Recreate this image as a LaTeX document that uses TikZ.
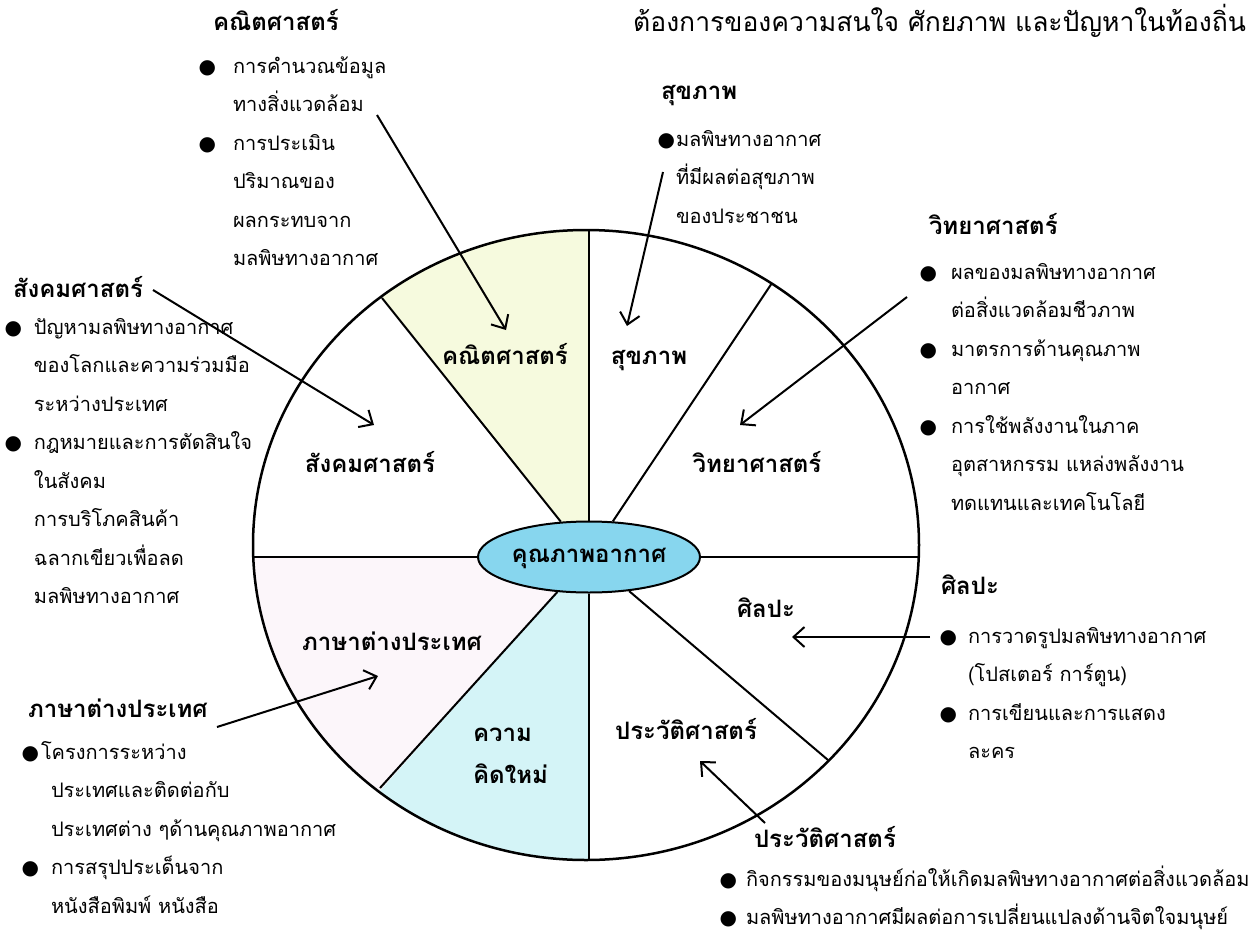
\documentclass[tikz,border=0pt]{standalone}
\usepackage{fontspec}
\newfontfamily\thaifont[Script=Thai]{Loma}
\newfontfamily\dotfont{DejaVu Sans}
\usetikzlibrary{shapes.geometric,arrows.meta}
\definecolor{mathfill}{RGB}{246,250,222}
\definecolor{ideafill}{RGB}{212,244,247}
\definecolor{langfill}{RGB}{252,246,250}
\definecolor{corefill}{RGB}{135,214,238}
\newcommand{\bul}[1][12pt]{\llap{{\dotfont ●}\hspace{#1}}}

\begin{document}
\begin{tikzpicture}[x=1pt, y=-1pt, line width=2pt,
	every node/.style={inner sep=0pt, font=\thaifont\fontsize{20}{38.5}\selectfont},
	head/.style={anchor=base west, font=\thaifont\bfseries\fontsize{24}{30}\selectfont},
	note/.style={anchor=north west, align=left},
	seg/.style={anchor=base, font=\thaifont\bfseries\fontsize{24}{42}\selectfont},
	arr/.style={-{Straight Barb[length=11pt, width=20pt]}}]
	\useasboundingbox (0,0) rectangle (1254,935);
	\begin{scope}
		\clip (586,545) ellipse [x radius=333, y radius=315];
		\fill[mathfill] (589,557) -- (176,39) -- (589,39) -- cycle;
		\fill[langfill] (589,557) -- (200,557) -- (176,1019) -- cycle;
		\fill[ideafill] (589,557) -- (176,1019) -- (589,1019) -- cycle;
	\end{scope}
	\draw[line width=2.5pt] (586,545) ellipse [x radius=333, y radius=315];
	\node[draw, ellipse, fill=corefill, minimum width=222pt, minimum height=71pt, text height=13pt, text depth=3pt, font=\thaifont\bfseries\fontsize{24}{30}\selectfont] (core) at (589,557) {คุณภาพอากาศ};
	\coordinate (rimN) at (589,230);
	\coordinate (rimS) at (589,860);
	\coordinate (rimW) at (253,557);
	\coordinate (rimE) at (918,557);
	\coordinate (rimNW) at (382,298);
	\coordinate (rimNE) at (772,283);
	\coordinate (rimSW) at (380,788);
	\coordinate (rimSE) at (828,760);
	\draw (core) -- (rimN);
	\draw (core) -- (rimS);
	\draw (core) -- (rimW);
	\draw (core) -- (rimE);
	\draw (core) -- (rimNW);
	\draw (core) -- (rimNE);
	\draw (core) -- (rimSW);
	\draw (core) -- (rimSE);
	\node[seg] (mathseg) at (505,364) {คณิตศาสตร์};
	\node[seg] (healthseg) at (649,364) {สุขภาพ};
	\node[seg] (socseg) at (370,472) {สังคมศาสตร์};
	\node[seg] (sciseg) at (757,472) {วิทยาศาสตร์};
	\node[seg] (artseg) at (766,617) {ศิลปะ};
	\node[seg] (langseg) at (392,650) {ภาษาต่างประเทศ};
	\node[seg, anchor=north west, align=left] (ideaseg) at (472,711) {\strut ความ\\คิดใหม่};
	\node[seg] (histseg) at (686,739) {ประวัติศาสตร์};
	\node[anchor=base east, font=\thaifont\fontsize{26.5}{30}\selectfont] (title) at (1247,31) {ต้องการของความสนใจ ศักยภาพ และปัญหาในท้องถิ่น};
	\node[head] (mathhead) at (212,30) {คณิตศาสตร์};
	\node[note] (mathnote) at (232,45.5) {\strut\bul[17pt]การคำนวณข้อมูล\\ทางสิ่งแวดล้อม\\\bul[17pt]การประเมิน\\ปริมาณของ\\ผลกระทบจาก\\มลพิษทางอากาศ};
	\node[head] (healthhead) at (660,99) {สุขภาพ};
	\node[note] (healthnote) at (675,118.5) {\strut\bul[1pt]มลพิษทางอากาศ\\ที่มีผลต่อสุขภาพ\\ของประชาชน};
	\node[head] (scihead) at (928,234) {วิทยาศาสตร์};
	\node[note] (scinote) at (950,251.5) {\strut\bul[14pt]ผลของมลพิษทางอากาศ\\ต่อสิ่งแวดล้อมชีวภาพ\\\bul[14pt]มาตรการด้านคุณภาพ\\อากาศ\\\bul[14pt]การใช้พลังงานในภาค\\อุตสาหกรรม แหล่งพลังงาน\\ทดแทนและเทคโนโลยี};
	\node[head] (sochead) at (12,297) {สังคมศาสตร์};
	\node[note] (socnote) at (33,306.5) {\strut\bul[12pt]ปัญหามลพิษทางอากาศ\\ของโลกและความร่วมมือ\\ระหว่างประเทศ\\\bul[12pt]กฎหมายและการตัดสินใจ\\ในสังคม\\การบริโภคสินค้า\\ฉลากเขียวเพื่อลด\\มลพิษทางอากาศ};
	\node[head] (arthead) at (940,594) {ศิลปะ};
	\node[note] (artnote) at (967,615.5) {\strut\bul[11pt]การวาดรูปมลพิษทางอากาศ\\(โปสเตอร์ การ์ตูน)\\\bul[11pt]การเขียนและการแสดง\\ละคร};
	\node[head] (langhead) at (27,717) {ภาษาต่างประเทศ};
	\node[note] (langnote) at (40,731.5) {\strut\bul[2pt]โครงการระหว่าง\\\hspace*{10pt}ประเทศและติดต่อกับ\\\hspace*{10pt}ประเทศต่าง ๆด้านคุณภาพอากาศ\\\hspace*{10pt}\bul[12pt]การสรุปประเด็นจาก\\\hspace*{10pt}หนังสือพิมพ์ หนังสือ};
	\node[head] (histhead) at (753,847) {ประวัติศาสตร์};
	\node[note] (histnote) at (745,858.5) {\strut\bul[9pt]กิจกรรมของมนุษย์ก่อให้เกิดมลพิษทางอากาศต่อสิ่งแวดล้อม\\\bul[9pt]มลพิษทางอากาศมีผลต่อการเปลี่ยนแปลงด้านจิตใจมนุษย์};
	\coordinate (mathtail) at (377,115);
	\coordinate (mathtip) at (506,330);
	\coordinate (healthtail) at (663,172);
	\coordinate (healthtip) at (627,326);
	\coordinate (scitail) at (907,297);
	\coordinate (scitip) at (740,425);
	\coordinate (soctail) at (153,290);
	\coordinate (soctip) at (374,425);
	\coordinate (arttail) at (930,637);
	\coordinate (arttip) at (792,637);
	\coordinate (langtail) at (217,727);
	\coordinate (langtip) at (378,676);
	\coordinate (histtail) at (765,823);
	\coordinate (histtip) at (700,761);
	\draw[arr] (mathtail) -- (mathtip);
	\draw[arr] (healthtail) -- (healthtip);
	\draw[arr] (scitail) -- (scitip);
	\draw[arr] (soctail) -- (soctip);
	\draw[arr] (arttail) -- (arttip);
	\draw[arr] (langtail) -- (langtip);
	\draw[arr] (histtail) -- (histtip);
\end{tikzpicture}
\end{document}
